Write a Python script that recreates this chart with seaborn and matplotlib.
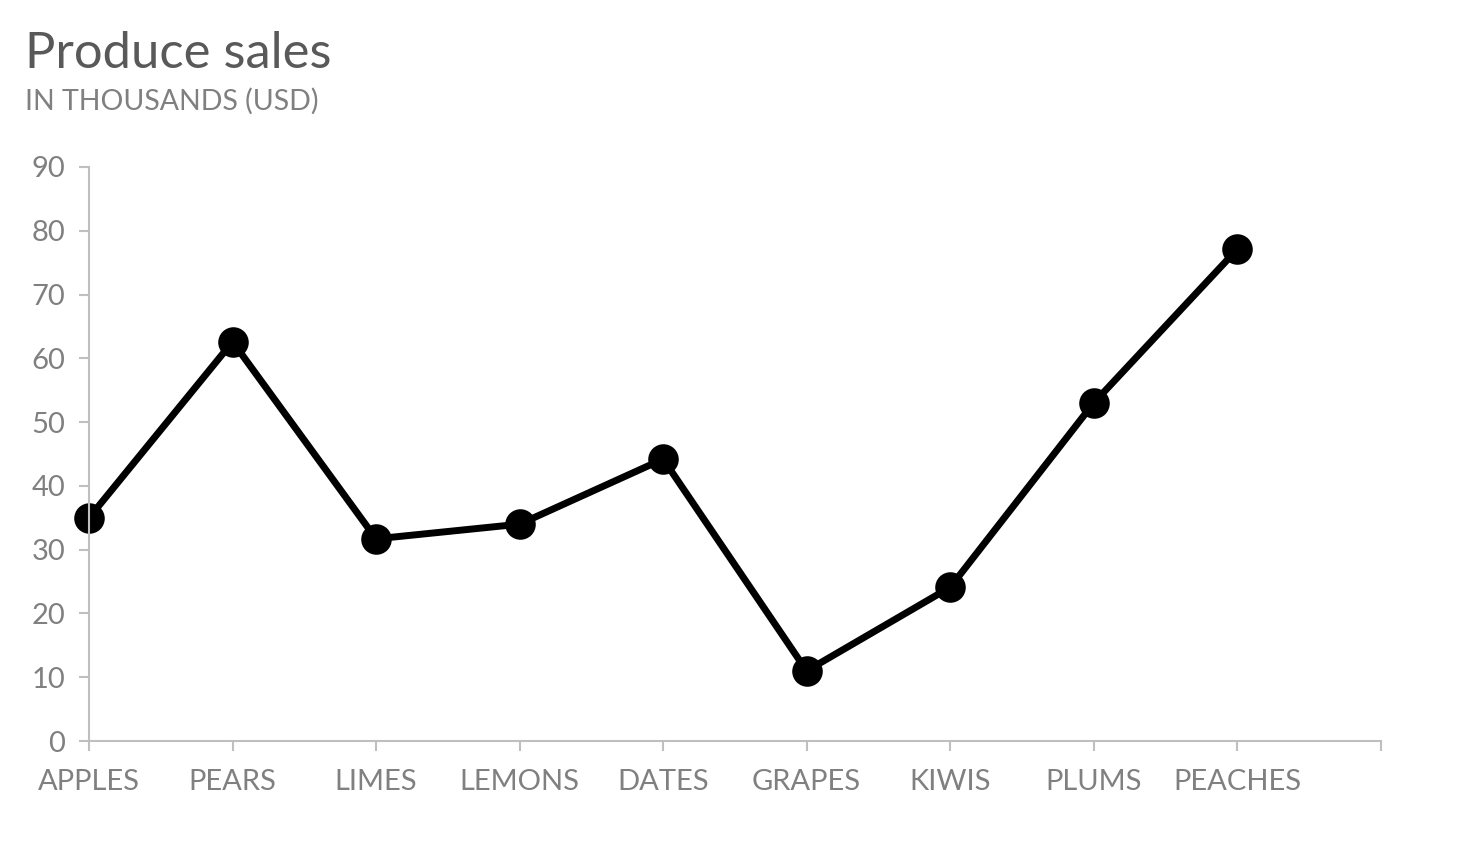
import pandas as pd
import matplotlib.pyplot as plt
import seaborn as sns

produtos = ["APPLES", "PEARS", "LIMES", "LEMONS", "DATES", "GRAPES", "KIWIS", "PLUMS", "PEACHES"]
vendas = [35.0, 62.6, 31.7, 34.0, 44.2, 11.0, 24.1, 53.0, 77.1]
yticks = [0, 10, 20, 30, 40, 50, 60, 70, 80, 90]

df = pd.DataFrame({"Produto": produtos, "Vendas": vendas})
df["pos"] = range(len(produtos))

sns.set_style("white")
plt.rcParams["font.family"] = ["Lato", "DejaVu Sans"]

cinza = "#808080"
linha_eixo = "#bfbfbf"

fig = plt.figure(figsize=(14.72, 8.49), dpi=100)
ax = fig.add_axes([0.0605, 0.1272, 0.8775, 0.6761])

sns.lineplot(data=df, x="pos", y="Vendas", color="black", linewidth=5,
             marker="o", markersize=22, markeredgewidth=0, ax=ax, clip_on=False)

ax.set_xlim(0, len(produtos))
ax.set_ylim(0, 90)
ax.set_xticks(range(len(produtos) + 1))
ax.set_xticklabels(produtos + [""])
ax.set_yticks(yticks)
ax.set_xlabel("")
ax.set_ylabel("")

for lado in ["top", "right"]:
    ax.spines[lado].set_visible(False)
for lado in ["left", "bottom"]:
    ax.spines[lado].set_color(linha_eixo)
    ax.spines[lado].set_linewidth(1.5)

ax.tick_params(axis="both", colors=linha_eixo, length=7, width=1.5, labelsize=21,
               labelcolor=cinza, direction="out", left=True, bottom=True)
ax.tick_params(axis="x", pad=13)
ax.tick_params(axis="y", pad=10)

fig.text(0.017, 0.92, "Produce sales", fontsize=36.5, color="#595959", ha="left", va="baseline")
fig.text(0.017, 0.871, "IN THOUSANDS (USD)", fontsize=20.5, color=cinza, ha="left", va="baseline")

plt.savefig("out.png", dpi=100)
